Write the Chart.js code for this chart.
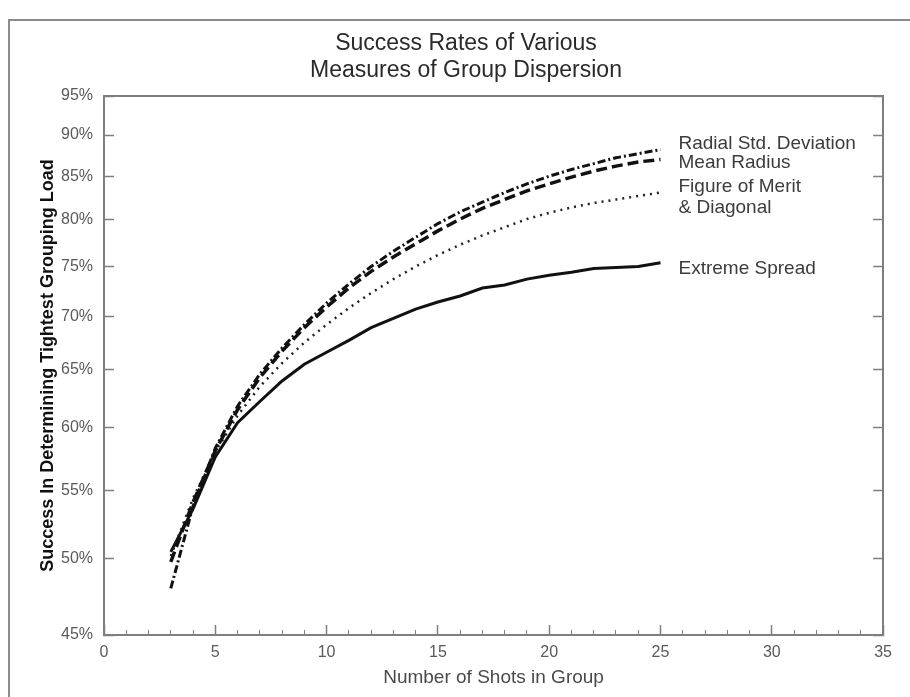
<!DOCTYPE html>
<html>
<head>
<meta charset="utf-8">
<script src="https://cdn.jsdelivr.net/npm/chart.js@4.4.1/dist/chart.umd.min.js"></script>
<style>
  html, body { margin: 0; padding: 0; background: #ffffff; }
  #wrap { position: relative; width: 910px; height: 697px; overflow: hidden; background: #ffffff; }
  #frame { position: absolute; left: 8px; top: 19px; width: 1000px; height: 1000px;
           border-top: 2px solid #8c8c8c; border-left: 2px solid #8c8c8c; box-sizing: border-box; }
  #c { position: absolute; left: 0; top: 0; }
</style>
</head>
<body>
<div id="wrap">
  <div id="frame"></div>
  <canvas id="c" width="910" height="697" style="width:910px;height:697px"></canvas>
</div>
<script>
// ---- data ----
const shots = [3,4,5,6,7,8,9,10,11,12,13,14,15,16,17,18,19,20,21,22,23,24,25];
const radialStdDev  = [48.0,53.8,58.3,61.8,64.6,67.0,69.2,71.3,73.2,75.0,76.6,78.1,79.6,80.9,82.0,83.1,84.1,85.0,85.8,86.5,87.2,87.7,88.2];
const meanRadius    = [49.8,54.1,58.1,61.5,64.3,66.7,68.9,70.9,72.8,74.5,76.0,77.4,78.8,80.1,81.3,82.3,83.3,84.1,84.9,85.6,86.2,86.7,87.0];
const figureOfMerit = [50.2,54.4,58.0,61.0,63.5,65.6,67.5,69.2,70.8,72.3,73.7,75.0,76.2,77.3,78.3,79.2,80.1,80.8,81.4,81.9,82.3,82.7,83.1];
const extremeSpread = [50.5,53.6,57.6,60.4,62.2,64.0,65.5,66.6,67.7,68.9,69.8,70.7,71.4,72.0,72.8,73.1,73.7,74.1,74.4,74.8,74.9,75.0,75.4];
const yTickValues = [45,50,55,60,65,70,75,80,85,90,95];
const xMin = 0, xMax = 35;
const seriesNames = [
  ['Radial Std. Deviation'],
  ['Mean Radius'],
  ['Figure of Merit', '& Diagonal'],
  ['Extreme Spread']
];
const titleLines = ['Success Rates of Various', 'Measures of Group Dispersion'];
const xTitle = 'Number of Shots in Group';
const yTitle = 'Success In Determining Tightest Grouping Load';

// ---- build chart ----
const toPoints = vals => shots.map((s, i) => ({ x: s, y: vals[i] }));
const FONT = '"Liberation Sans", Arial, Helvetica, sans-serif';
const AXIS = '#7f7f7f';

const labelOffsets = [-6, 3.5, -6, 6];   // pixel nudges of the end labels
const endLabels = {
  id: 'endLabels',
  afterDatasetsDraw(chart) {
    const ctx = chart.ctx, xs = chart.scales.x, ys = chart.scales.y;
    ctx.save();
    ctx.font = '19px ' + FONT;
    ctx.fillStyle = '#3c3c3c';
    ctx.textBaseline = 'middle';
    ctx.textAlign = 'left';
    chart.data.datasets.forEach((ds, i) => {
      const last = ds.data[ds.data.length - 1];
      const px = xs.getPixelForValue(last.x) + 18;
      const py = ys.getPixelForValue(last.y) + labelOffsets[i];
      seriesNames[i].forEach((t, j) => ctx.fillText(t, px, py + j * 21.5));
    });
    ctx.restore();
  }
};

const setLogTicks = s => { s.ticks = yTickValues.map(v => ({ value: v })); };

new Chart(document.getElementById('c'), {
  type: 'line',
  data: {
    datasets: [
      { label: seriesNames[0].join(' '), data: toPoints(radialStdDev), borderColor: '#111', borderWidth: 3,
        borderDash: [8, 3, 2, 3] },
      { label: seriesNames[1].join(' '), data: toPoints(meanRadius), borderColor: '#111', borderWidth: 3.5,
        borderDash: [11, 5] },
      { label: seriesNames[2].join(' '), data: toPoints(figureOfMerit), borderColor: '#222', borderWidth: 2.5,
        borderDash: [2, 5] },
      { label: seriesNames[3].join(' '), data: toPoints(extremeSpread), borderColor: '#111', borderWidth: 3 }
    ]
  },
  options: {
    responsive: false,
    animation: false,
    devicePixelRatio: 1,
    layout: { padding: { left: 22, right: 0, top: 0, bottom: 0 } },
    elements: { point: { radius: 0 }, line: { tension: 0, fill: false } },
    plugins: {
      legend: { display: false },
      tooltip: { enabled: false },
      title: {
        display: true,
        text: titleLines,
        color: '#2a2a2a',
        font: { family: FONT, size: 23, weight: 'normal', lineHeight: 27 / 23 },
        padding: { top: 30, bottom: 12 }
      }
    },
    scales: {
      x: {
        type: 'linear', position: 'bottom', min: xMin, max: xMax, weight: 1,
        afterFit: s => { s.height = 62; },
        ticks: { stepSize: 5, autoSkip: false, maxRotation: 0, padding: 18, color: '#5a5a5a',
                 font: { family: FONT, size: 16 } },
        grid: { drawOnChartArea: false, drawTicks: true, tickLength: -10, color: AXIS, tickWidth: 1.5 },
        border: { display: true, color: AXIS, width: 2 },
        title: { display: true, text: xTitle, color: '#4a4a4a', font: { family: FONT, size: 19 },
                 padding: { top: 0, bottom: 8 } }
      },
      xMinor: {
        type: 'linear', position: 'bottom', min: xMin, max: xMax, weight: 0,
        afterFit: s => { s.height = 0; },
        ticks: { display: false, stepSize: 1, autoSkip: false },
        grid: { drawOnChartArea: false, drawTicks: true, tickLength: -5, color: AXIS, tickWidth: 1 },
        border: { display: false }
      },
      xTop: {
        type: 'linear', position: 'top', min: xMin, max: xMax,
        afterFit: s => { s.height = 0; },
        ticks: { display: false },
        grid: { drawOnChartArea: false, drawTicks: false },
        border: { display: true, color: AXIS, width: 2 }
      },
      y: {
        type: 'logarithmic', position: 'left', min: 45, max: 95,
        afterBuildTicks: setLogTicks,
        afterFit: s => { s.width = 82; },
        ticks: { autoSkip: false, padding: 21, color: '#5a5a5a', font: { family: FONT, size: 16 },
                 callback: v => v + '%' },
        grid: { drawOnChartArea: false, drawTicks: true, tickLength: -10, color: AXIS, tickWidth: 1.5 },
        border: { display: true, color: AXIS, width: 2 },
        title: { display: true, text: yTitle, color: '#111', font: { family: FONT, size: 18, weight: 'bold' },
                 padding: { top: 15, bottom: 0 } }
      },
      y2: {
        type: 'logarithmic', position: 'right', min: 45, max: 95,
        afterBuildTicks: setLogTicks,
        afterFit: s => { s.width = 25; },
        ticks: { display: false },
        grid: { drawOnChartArea: false, drawTicks: true, tickLength: -10, color: AXIS, tickWidth: 1.5 },
        border: { display: true, color: AXIS, width: 2 }
      }
    }
  },
  plugins: [endLabels]
});
</script>
</body>
</html>
